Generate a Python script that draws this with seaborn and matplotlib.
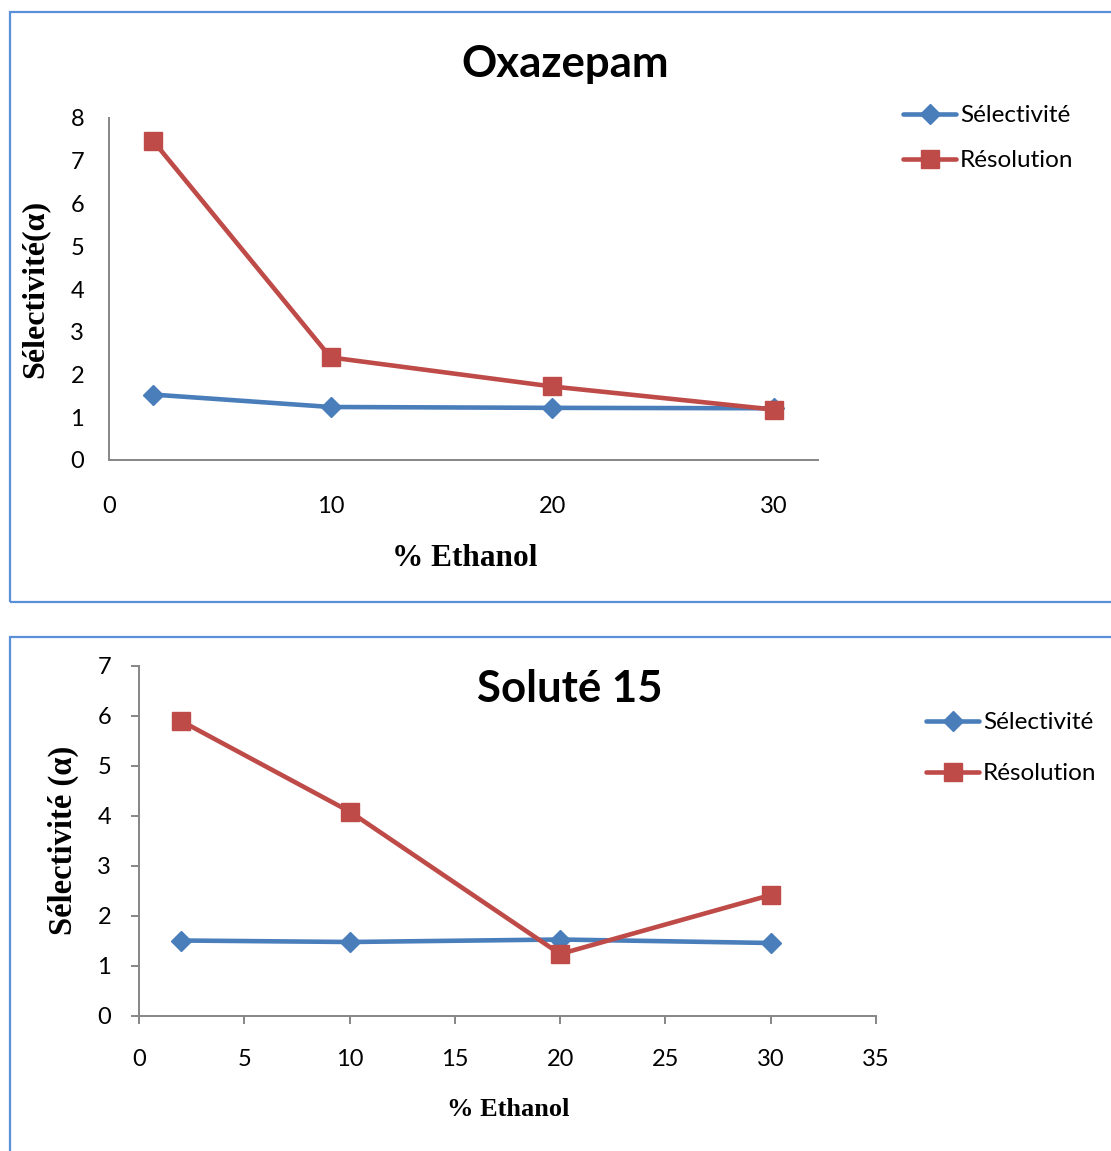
import matplotlib
matplotlib.use("Agg")
import matplotlib.pyplot as plt
from matplotlib.patches import Rectangle
import seaborn as sns
import pandas as pd

# % ethanol in the mobile phase
ethanol = [2, 10, 20, 30]

# Oxazepam
oxa_selectivite = [1.53, 1.24, 1.22, 1.21]
oxa_resolution = [7.46, 2.40, 1.72, 1.18]

# Soluté 15
sol_selectivite = [1.51, 1.48, 1.53, 1.46]
sol_resolution = [5.90, 4.09, 1.24, 2.42]

series_names = ["Sélectivité", "Résolution"]
oxa_ticks_x = [0, 10, 20, 30]
oxa_ticks_y = [0, 1, 2, 3, 4, 5, 6, 7, 8]
sol_ticks_x = [0, 5, 10, 15, 20, 25, 30, 35]
sol_ticks_y = [0, 1, 2, 3, 4, 5, 6, 7]

BLUE = "#4a7ebb"
RED = "#be4b48"
GRID_GRAY = "#868686"
FRAME = "#5b8fd8"

sns.set_style("white")
plt.rcParams["font.family"] = ["Lato", "DejaVu Sans"]
plt.rcParams["text.color"] = "black"

W, H = 1111, 1151
fig = plt.figure(figsize=(W / 100, H / 100), dpi=100)


def px_axes(left, right, top, bottom):
    return fig.add_axes([left / W, (H - bottom) / H, (right - left) / W, (bottom - top) / H])


def long_frame(sel, res):
    return pd.DataFrame({
        "ethanol": ethanol * 2,
        "valeur": list(sel) + list(res),
        "serie": [series_names[0]] * len(ethanol) + [series_names[1]] * len(ethanol),
    })


def draw_series(ax, df):
    styles = {
        series_names[0]: dict(color=BLUE, marker="D", markersize=10),
        series_names[1]: dict(color=RED, marker="s", markersize=13),
    }
    for name in series_names:
        st = styles[name]
        sns.lineplot(data=df[df["serie"] == name], x="ethanol", y="valeur", ax=ax,
                     color=st["color"], marker=st["marker"], markersize=st["markersize"],
                     markeredgecolor=st["color"], markeredgewidth=1, linewidth=3.3,
                     label=name, legend=False, estimator=None, sort=False)


def style_axes(ax, xlim, ylim, xt, yt, ticklen, xpad, ypad):
    ax.set_xlim(*xlim)
    ax.set_ylim(*ylim)
    ax.set_xticks(xt)
    ax.set_yticks(yt)
    ax.set_xlabel("")
    ax.set_ylabel("")
    for s in ["top", "right"]:
        ax.spines[s].set_visible(False)
    for s in ["left", "bottom"]:
        ax.spines[s].set_color(GRID_GRAY)
        ax.spines[s].set_linewidth(1.4)
    ax.tick_params(axis="x", length=ticklen, width=1.4, color=GRID_GRAY, direction="out",
                   pad=xpad, labelsize=17, labelcolor="black", bottom=True)
    ax.tick_params(axis="y", length=ticklen, width=1.4, color=GRID_GRAY, direction="out",
                   pad=ypad, labelsize=17, labelcolor="black", left=True)
    ax.patch.set_alpha(0)


def add_legend(ax, x, y, spacing):
    handles, labels = ax.get_legend_handles_labels()
    leg = fig.legend(handles, labels, loc="upper left", bbox_to_anchor=(x / W, 1 - y / H),
                     bbox_transform=fig.transFigure, frameon=False, fontsize=17.5,
                     handlelength=2.2, handletextpad=0.15, labelspacing=spacing,
                     borderaxespad=0, borderpad=0)
    for t in leg.get_texts():
        t.set_color("black")


# panel frames
fig.add_artist(Rectangle((10 / W, (H - 602) / H), 1.2, (602 - 11.5) / H,
                         transform=fig.transFigure, fill=False, ec=FRAME, lw=1.6, clip_on=False))
fig.add_artist(Rectangle((10 / W, -0.1), 1.2, 0.1 + (H - 637) / H,
                         transform=fig.transFigure, fill=False, ec=FRAME, lw=1.6, clip_on=False))

# Oxazepam
ax1 = px_axes(109, 818, 118, 460)
draw_series(ax1, long_frame(oxa_selectivite, oxa_resolution))
style_axes(ax1, (0, 32), (0, 8), oxa_ticks_x, oxa_ticks_y, 0, 26, 18)
fig.text(565 / W, 1 - 64 / H, "Oxazepam", ha="center", va="center",
         fontsize=31.5, fontweight="bold")
fig.text(465 / W, 1 - 558 / H, "% Ethanol", ha="center", va="center",
         fontsize=22.5, fontweight="bold", family=["Liberation Serif"])
fig.text(35 / W, 1 - 289 / H, "Sélectivité(α)", ha="center", va="center", rotation=90,
         fontsize=23, fontweight="bold", family=["Liberation Serif"])
add_legend(ax1, 903, 105, 1.0)

# Soluté 15
ax2 = px_axes(139, 876, 666, 1016)
draw_series(ax2, long_frame(sol_selectivite, sol_resolution))
style_axes(ax2, (0, 35), (0, 7), sol_ticks_x, sol_ticks_y, 6, 18, 14)
fig.text(570 / W, 1 - 689 / H, "Soluté 15", ha="center", va="center",
         fontsize=31.5, fontweight="bold")
fig.text(508 / W, 1 - 1110 / H, "% Ethanol", ha="center", va="center",
         fontsize=19, fontweight="bold", family=["Liberation Serif"])
fig.text(63 / W, 1 - 840 / H, "Sélectivité (α)", ha="center", va="center", rotation=90,
         fontsize=23.5, fontweight="bold", family=["Liberation Serif"])
add_legend(ax2, 926, 712, 1.25)

fig.savefig("out.png", dpi=100)
